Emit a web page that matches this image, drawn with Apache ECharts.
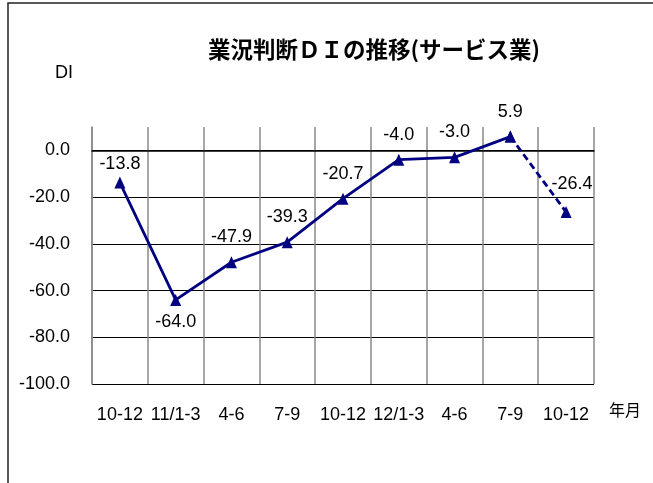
<!DOCTYPE html>
<html>
<head>
<meta charset="utf-8">
<script src="https://cdn.jsdelivr.net/npm/echarts@6/dist/echarts.min.js"></script>
<style>
  html, body { margin: 0; padding: 0; background: #fff; }
  #grafico { width: 653px; height: 483px; }
</style>
</head>
<body>
<div id="grafico"></div>
<script>
// 四半期ラベル
var periodos = ['10-12', '11/1-3', '4-6', '7-9', '10-12', '12/1-3', '4-6', '7-9', '10-12'];
// 業況判断DI (最後は見通し)
var valoresDI = [-13.8, -64.0, -47.9, -39.3, -20.7, -4.0, -3.0, 5.9, -26.4];
// 実績の最後の位置 (ここから先は破線)
var ultimoReal = 7;

var fuente = { fontFamily: "'Liberation Sans', Arial, sans-serif", fontSize: 18, fontWeight: 'normal', color: '#000' };
var azul = '#000080';

var datosReal = valoresDI.map(function (v, i) {
    if (i > ultimoReal) return null;
    var d = { value: v };
    if (i === 1) d.label = { position: 'bottom', distance: 7 };
    if (i === 0) d.label = { distance: 4 };
    return d;
});
var datosPrevision = valoresDI.map(function (v, i) {
    if (i < ultimoReal) return null;
    if (i === ultimoReal) return { value: v, label: { show: false } };
    return { value: v };
});

var myChart = echarts.init(document.getElementById('grafico'));

var option = {
    animation: false,
    title: [{
        text: '業況判断ＤＩの推移(サービス業)',
        left: 203,
        top: 33,
        textStyle: {
            fontFamily: "'Noto Sans CJK JP', sans-serif",
            fontSize: 22.5,
            fontWeight: 'bold',
            color: '#000'
        }
    }, {
        text: 'DI',
        left: 50,
        top: 59,
        textStyle: fuente
    }, {
        text: '年月',
        left: 604,
        top: 397,
        textStyle: {
            fontFamily: "'Noto Sans CJK JP', sans-serif",
            fontSize: 16,
            fontWeight: 'normal',
            color: '#000'
        }
    }],
    graphic: [{
        type: 'rect',
        shape: { x: 8, y: 3, width: 800, height: 800 },
        style: { fill: 'none', stroke: '#222', lineWidth: 1.5 },
        silent: true
    }],
    grid: { left: 92, right: 59, top: 127, bottom: 99 },
    xAxis: {
        type: 'category',
        data: periodos,
        boundaryGap: true,
        axisLine: { show: true, lineStyle: { color: '#000', width: 1.5 } },
        axisTick: { show: false },
        axisLabel: Object.assign({ margin: 22, interval: 0 }, fuente),
        splitLine: { show: true, lineStyle: { color: '#888', width: 1.5 } }
    },
    yAxis: {
        type: 'value',
        min: -100,
        max: 10,
        interval: 20,
        axisLine: { show: true, lineStyle: { color: '#888', width: 1.5 } },
        axisTick: { show: false },
        axisLabel: Object.assign({
            margin: 22,
            showMaxLabel: false,
            formatter: function (v) { return v > 0 ? '' : v.toFixed(1); }
        }, fuente),
        splitLine: {
            show: true,
            lineStyle: {
                color: ['#000', '#000', '#000', '#000', '#000', '#000', 'rgba(0,0,0,0)'],
                width: 1.2
            }
        }
    },
    series: [{
        name: '実績',
        type: 'line',
        data: datosReal,
        symbol: 'triangle',
        symbolSize: [11, 12],
        itemStyle: { color: azul },
        lineStyle: { color: azul, width: 2.8 },
        label: Object.assign({
            show: true,
            position: 'top',
            distance: 10,
            formatter: function (p) { return p.value.toFixed(1); }
        }, fuente),
        z: 3
    }, {
        name: '見通し',
        type: 'line',
        data: datosPrevision,
        symbol: 'triangle',
        symbolSize: [11, 12],
        itemStyle: { color: azul },
        lineStyle: { color: azul, width: 2.8, type: [7, 4] },
        label: Object.assign({
            show: true,
            position: 'top',
            distance: 13,
            offset: [6, 0],
            formatter: function (p) { return p.value.toFixed(1); }
        }, fuente),
        z: 2
    }]
};

myChart.setOption(option);
</script>
</body>
</html>
